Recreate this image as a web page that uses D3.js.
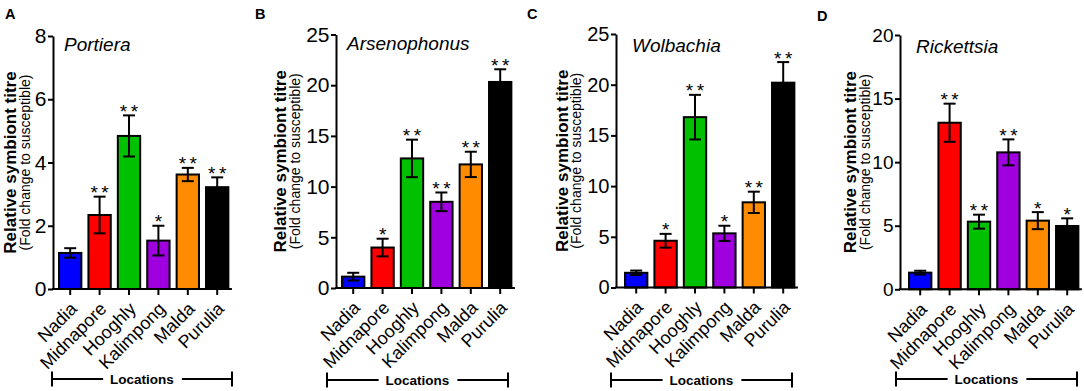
<!DOCTYPE html>
<html><head><meta charset="utf-8">
<script src="https://cdn.jsdelivr.net/npm/d3@7"></script>
<style>
html,body{margin:0;padding:0;background:#fff;}
svg{display:block;font-family:"Liberation Sans",Arial,Helvetica,sans-serif;}
</style></head><body>
<svg id="chart" width="1084" height="391"></svg>
<script>
// ---------------- data ----------------
const locations = ["Nadia","Midnapore","Hooghly","Kalimpong","Malda","Purulia"];
const panelLetters = ["A","B","C","D"];
const symbionts = ["Portiera","Arsenophonus","Wolbachia","Rickettsia"];

const portieraMean = [1.14, 2.34, 4.84, 1.53, 3.62, 3.22];
const portieraErr  = [0.15, 0.58, 0.65, 0.47, 0.21, 0.31];
const portieraSig  = ["", "**", "**", "*", "**", "**"];

const arsenophonusMean = [1.12, 3.99, 12.78, 8.50, 12.19, 20.32];
const arsenophonusErr  = [0.38, 0.87, 1.85, 0.92, 1.25, 1.25];
const arsenophonusSig  = ["", "*", "**", "**", "**", "**"];

const wolbachiaMean = [1.45, 4.61, 16.80, 5.34, 8.40, 20.20];
const wolbachiaErr  = [0.22, 0.68, 2.20, 0.75, 1.05, 2.03];
const wolbachiaSig  = ["", "*", "**", "*", "**", "**"];

const rickettsiaMean = [1.31, 13.10, 5.32, 10.77, 5.40, 4.98];
const rickettsiaErr  = [0.15, 1.50, 0.55, 1.02, 0.67, 0.60];
const rickettsiaSig  = ["", "**", "**", "**", "*", "*"];

const yTicksA = [0, 2, 4, 6, 8];
const yTicksB = [0, 5, 10, 15, 20, 25];
const yTicksC = [0, 5, 10, 15, 20, 25];
const yTicksD = [0, 5, 10, 15, 20];

const barColors = ["#0000ff", "#ff0000", "#00c000", "#a000e0", "#ff8c00", "#000000"];
const yTitle = "Relative symbiont titre";
const ySubtitle = "(Fold change to susceptible)";
const xTitle = "Locations";

// ---------------- layout ----------------
const panels = [
  {mean: portieraMean, err: portieraErr, sig: portieraSig, ticks: yTicksA, tickFont: 21,
   axisX: 53, top: 36, bottom: 289, bandOff: 2.5, titleX: 16, subX: 29.5,
   letterX: 5, letterY: 19, bx: [52, 232], by: 379, nameX: 64, nameY: 51},
  {mean: arsenophonusMean, err: arsenophonusErr, sig: arsenophonusSig, ticks: yTicksB, tickFont: 21,
   axisX: 336, top: 34.5, bottom: 288, bandOff: 2.5, titleX: 286, subX: 300,
   letterX: 255, letterY: 18.5, bx: [327, 508], by: 380, nameX: 347, nameY: 50},
  {mean: wolbachiaMean, err: wolbachiaErr, sig: wolbachiaSig, ticks: yTicksC, tickFont: 20,
   axisX: 616, top: 34, bottom: 287.5, bandOff: 5.5, titleX: 568, subX: 581,
   letterX: 527, letterY: 18.5, bx: [611, 792], by: 380, nameX: 632, nameY: 51.5},
  {mean: rickettsiaMean, err: rickettsiaErr, sig: rickettsiaSig, ticks: yTicksD, tickFont: 19,
   axisX: 900, top: 35, bottom: 289.3, bandOff: 5.5, titleX: 856, subX: 870,
   letterX: 817, letterY: 20.5, bx: [896, 1077], by: 379, nameX: 916, nameY: 53}
];

const svg = d3.select("#chart");
const STEP = 29.4;

panels.forEach((p, pi) => {
  const g = svg.append("g");
  const x = d3.scaleBand()
    .domain(locations)
    .range([p.axisX + p.bandOff, p.axisX + p.bandOff + STEP * locations.length])
    .paddingInner(0.24).paddingOuter(0.12);
  const y = d3.scaleLinear()
    .domain([0, d3.max(p.ticks)])
    .range([p.bottom, p.top]);

  const rows = locations.map((loc, i) => ({loc, m: p.mean[i], e: p.err[i], s: p.sig[i], c: barColors[i]}));
  const cxOf = d => x(d.loc) + x.bandwidth() / 2;

  // bars
  g.selectAll("rect.bar").data(rows).join("rect")
    .attr("class", "bar")
    .attr("x", d => x(d.loc))
    .attr("width", x.bandwidth())
    .attr("y", d => y(d.m))
    .attr("height", d => y(0) - y(d.m))
    .attr("fill", d => d.c)
    .attr("stroke", "#000").attr("stroke-width", 2);

  // error bars
  const eb = g.selectAll("g.eb").data(rows).join("g").attr("class", "eb")
    .attr("stroke", "#000").attr("stroke-width", 2).attr("fill", "none");
  eb.append("line")
    .attr("x1", cxOf).attr("x2", cxOf)
    .attr("y1", d => y(d.m - d.e)).attr("y2", d => y(d.m + d.e));
  eb.append("line")
    .attr("x1", d => cxOf(d) - 6).attr("x2", d => cxOf(d) + 6)
    .attr("y1", d => y(d.m + d.e)).attr("y2", d => y(d.m + d.e));
  eb.append("line")
    .attr("x1", d => cxOf(d) - 6).attr("x2", d => cxOf(d) + 6)
    .attr("y1", d => y(d.m - d.e)).attr("y2", d => y(d.m - d.e));

  // significance stars
  g.selectAll("text.sig").data(rows.filter(d => d.s)).join("text")
    .attr("class", "sig")
    .attr("x", d => cxOf(d) + (d.s.length > 1 ? 1.75 : 0))
    .attr("y", d => y(d.m + d.e) + 2.5)
    .attr("text-anchor", "middle")
    .style("font-size", "19px")
    .style("letter-spacing", d => d.s.length > 1 ? "3.5px" : "0px")
    .text(d => d.s);

  // y axis
  const ya = g.append("g")
    .attr("transform", `translate(${p.axisX},0)`)
    .call(d3.axisLeft(y).tickValues(p.ticks).tickSize(5).tickSizeOuter(0).tickPadding(1.5).tickFormat(d3.format("d")));
  ya.attr("font-family", null).attr("font-size", null);
  ya.select(".domain").attr("stroke-width", 2);
  ya.selectAll(".tick line").attr("stroke-width", 2);
  ya.selectAll(".tick text").style("font-size", p.tickFont + "px").attr("fill", "#000");

  // x axis
  const xa = g.append("g")
    .attr("transform", `translate(0,${p.bottom})`)
    .call(d3.axisBottom(x).tickSize(6).tickSizeOuter(0));
  xa.attr("font-family", null).attr("font-size", null);
  xa.select(".domain").remove();
  xa.selectAll(".tick line").attr("stroke-width", 2);
  xa.selectAll(".tick text")
    .attr("x", 0).attr("y", 0).attr("dy", null)
    .attr("text-anchor", "end")
    .attr("transform", "translate(8,21) rotate(-45)")
    .style("font-size", "18px").attr("fill", "#000");
  g.append("line")
    .attr("x1", p.axisX - 1).attr("x2", x.range()[1])
    .attr("y1", p.bottom).attr("y2", p.bottom)
    .attr("stroke", "#000").attr("stroke-width", 2);

  // symbiont name
  g.append("text").attr("x", p.nameX).attr("y", p.nameY)
    .style("font-size", "19px").style("font-style", "italic")
    .text(symbionts[pi]);

  // panel letter
  g.append("text").attr("x", p.letterX).attr("y", p.letterY)
    .style("font-size", "14.5px").style("font-weight", "bold")
    .text(panelLetters[pi]);

  // y titles
  const cy = (p.top + p.bottom) / 2;
  g.append("text")
    .attr("transform", `translate(${p.titleX},${cy}) rotate(-90)`)
    .attr("text-anchor", "middle")
    .style("font-size", "17px").style("font-weight", "bold")
    .text(yTitle);
  g.append("text")
    .attr("transform", `translate(${p.subX},${cy}) rotate(-90)`)
    .attr("text-anchor", "middle")
    .style("font-size", "14px")
    .text(ySubtitle);

  // locations bracket
  const cx = (p.bx[0] + p.bx[1]) / 2;
  const lt = g.append("text").attr("x", cx).attr("y", p.by + 5)
    .attr("text-anchor", "middle")
    .style("font-size", "13.5px").style("font-weight", "bold")
    .text(xTitle);
  const tw = lt.node().getComputedTextLength();
  const br = g.append("g").attr("stroke", "#000").attr("stroke-width", 2);
  br.append("line").attr("x1", p.bx[0]).attr("x2", cx - tw / 2 - 7).attr("y1", p.by).attr("y2", p.by);
  br.append("line").attr("x1", cx + tw / 2 + 8).attr("x2", p.bx[1]).attr("y1", p.by).attr("y2", p.by);
  br.append("line").attr("x1", p.bx[0]).attr("x2", p.bx[0]).attr("y1", p.by - 7.5).attr("y2", p.by + 7.5);
  br.append("line").attr("x1", p.bx[1]).attr("x2", p.bx[1]).attr("y1", p.by - 7.5).attr("y2", p.by + 7.5);
});
</script>
</body></html>
